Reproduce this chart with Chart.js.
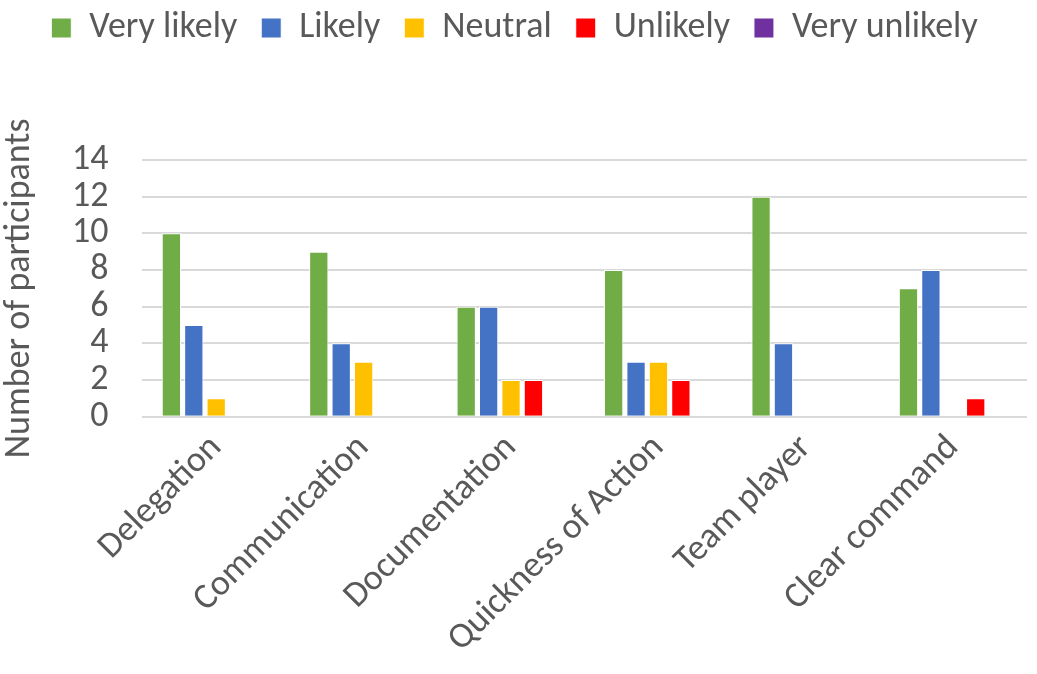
<!DOCTYPE html>
<html>
<head>
<meta charset="utf-8">
<script src="https://cdn.jsdelivr.net/npm/chart.js@4/dist/chart.umd.min.js"></script>
<style>
  html, body { margin: 0; padding: 0; background: #fff; }
  #wrap { width: 1037px; height: 674px; }
</style>
</head>
<body>
<div id="wrap"><canvas id="myChart" width="1037" height="674"></canvas></div>
<script>
  // categories and series
  const categories = ['Delegation', 'Communication', 'Documentation', 'Quickness of Action', 'Team player', 'Clear command'];
  const veryLikely = [10, 9, 6, 8, 12, 7];
  const likely = [5, 4, 6, 3, 4, 8];
  const neutral = [1, 3, 2, 3, 0, 0];
  const unlikely = [0, 0, 2, 2, 0, 1];
  const veryUnlikely = [0, 0, 0, 0, 0, 0];
  const yTicks = [0, 2, 4, 6, 8, 10, 12, 14];

  const textColor = '#595959';
  const fontFamily = 'Carlito, Lato, "Open Sans", sans-serif';
  const fontSize = 36;

  function series(label, data, color) {
    return {
      label: label,
      data: data,
      backgroundColor: color,
      borderColor: '#ffffff',
      borderWidth: 1,
      categoryPercentage: 0.76,
      barPercentage: 0.86
    };
  }

  // push the plot down below the legend like in the original
  const legendGap = {
    id: 'legendGap',
    beforeInit(chart) {
      const origFit = chart.legend.fit;
      chart.legend.fit = function () {
        origFit.call(this);
        this.height += 104;
      };
    }
  };

  const ctx = document.getElementById('myChart').getContext('2d');
  const myChart = new Chart(ctx, {
    type: 'bar',
    data: {
      labels: categories,
      datasets: [
        series('Very likely', veryLikely, '#70AD47'),
        series('Likely', likely, '#4472C4'),
        series('Neutral', neutral, '#FFC000'),
        series('Unlikely', unlikely, '#FF0000'),
        series('Very unlikely', veryUnlikely, '#7030A0')
      ]
    },
    options: {
      responsive: false,
      animation: false,
      layout: { padding: { left: 2, right: 10, top: -14, bottom: 11 } },
      scales: {
        x: {
          grid: { display: false },
          border: { display: false },
          ticks: {
            color: textColor,
            font: { family: fontFamily, size: fontSize },
            maxRotation: 45,
            minRotation: 45,
            padding: 2
          }
        },
        y: {
          min: 0,
          max: 14,
          afterBuildTicks(axis) {
            axis.ticks = yTicks.map(v => ({ value: v }));
          },
          grid: { color: '#D9D9D9', lineWidth: 2, drawTicks: false },
          border: { display: false },
          ticks: {
            color: textColor,
            font: { family: fontFamily, size: fontSize },
            padding: 34,
            autoSkip: false
          },
          title: {
            display: true,
            text: 'Number of participants',
            color: textColor,
            font: { family: fontFamily, size: fontSize, lineHeight: 1 },
            padding: { top: 0, bottom: 0 }
          }
        }
      },
      plugins: {
        legend: {
          position: 'top',
          labels: {
            color: textColor,
            font: { family: fontFamily, size: fontSize },
            boxWidth: 20,
            boxHeight: 20,
            padding: 24
          }
        },
        tooltip: { enabled: false }
      }
    },
    plugins: [legendGap]
  });
</script>
</body>
</html>
